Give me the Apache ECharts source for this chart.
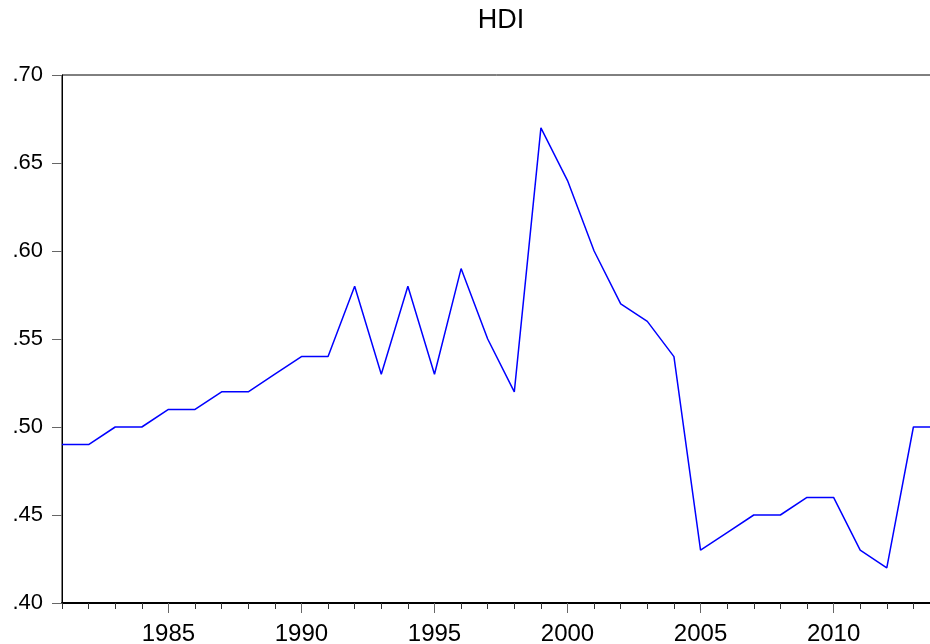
<!DOCTYPE html>
<html>
<head>
<meta charset="utf-8">
<script src="https://cdn.jsdelivr.net/npm/echarts@6/dist/echarts.min.js"></script>
<style>
html,body{margin:0;padding:0;background:#fff;overflow:hidden;}
#chart{width:930px;height:644px;}
</style>
</head>
<body>
<div id="chart"></div>
<script>
const years = [1981,1982,1983,1984,1985,1986,1987,1988,1989,1990,1991,1992,1993,1994,1995,1996,1997,1998,1999,2000,2001,2002,2003,2004,2005,2006,2007,2008,2009,2010,2011,2012,2013,2014];
const hdi = [0.49,0.49,0.50,0.50,0.51,0.51,0.52,0.52,0.53,0.54,0.54,0.58,0.53,0.58,0.53,0.59,0.55,0.52,0.67,0.64,0.60,0.57,0.56,0.54,0.43,0.44,0.45,0.45,0.46,0.46,0.43,0.42,0.50,0.50];
const yTicks = [0.40,0.45,0.50,0.55,0.60,0.65,0.70];
const titleText = 'HDI';

const chart = echarts.init(document.getElementById('chart'));
const font = 'Liberation Sans, Arial, sans-serif';
const isMajor = (i, v) => Number(v) % 5 === 0;

chart.setOption({
  animation: false,
  backgroundColor: '#fff',
  graphic: [{
    type: 'text', x: 501, y: 7,
    style: { text: titleText, fill: '#000', font: '27px ' + font, textAlign: 'center', textVerticalAlign: 'top' }
  }],
  grid: { left: 62, top: 75, height: 528, width: 878, outerBoundsMode: 'none', containLabel: false,
    show: true, borderColor: '#000', borderWidth: 1, backgroundColor: 'transparent' },
  xAxis: [{
    type: 'category', data: years, boundaryGap: false, position: 'bottom',
    axisLine: { show: true, lineStyle: { color: '#000', width: 2 } },
    axisTick: { show: true, interval: 0, length: 6, lineStyle: { color: '#333', width: 1 } },
    axisLabel: { show: false },
    splitLine: { show: false }
  }, {
    type: 'category', data: years, boundaryGap: false, position: 'bottom', offset: 0,
    axisLine: { show: false },
    axisTick: { show: true, interval: isMajor, length: 10, lineStyle: { color: '#666', width: 1 } },
    axisLabel: { show: true, interval: isMajor, margin: 19, color: '#000', fontSize: 24, fontFamily: font },
    splitLine: { show: false }
  }],
  yAxis: {
    type: 'value', min: yTicks[0], max: yTicks[yTicks.length - 1], interval: 0.05,
    axisLine: { show: true, lineStyle: { color: '#000', width: 1 } },
    axisTick: { show: true, length: 10, lineStyle: { color: '#666', width: 1 } },
    axisLabel: { margin: 19, color: '#000', fontSize: 22, fontFamily: font,
      formatter: v => v.toFixed(2).replace(/^0/, '') },
    splitLine: { show: false }
  },
  series: [{
    type: 'line', xAxisIndex: 0, data: hdi, symbol: 'none',
    lineStyle: { color: '#0000ff', width: 1.5 }
  }]
});
</script>
</body>
</html>
